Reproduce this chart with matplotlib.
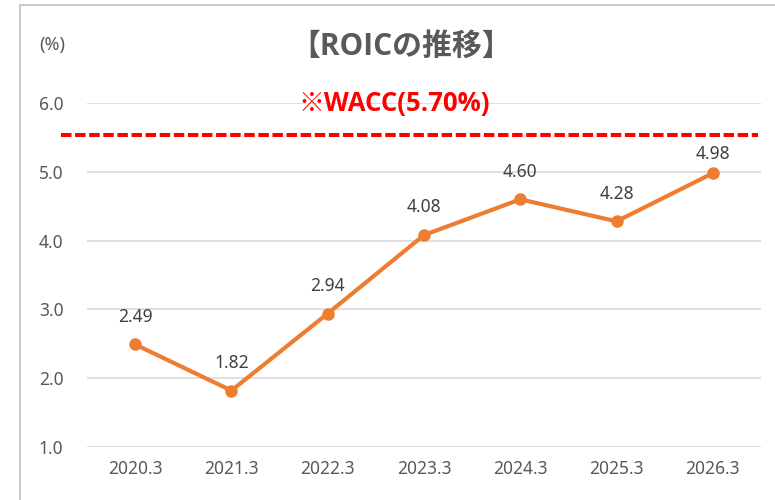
import matplotlib
matplotlib.use("Agg")
import matplotlib.pyplot as plt
from matplotlib.patches import Rectangle

plt.rcParams['font.family'] = ['Noto Sans', 'Noto Sans CJK JP', 'DejaVu Sans']
bold_family = ['Open Sans', 'Noto Sans CJK JP', 'DejaVu Sans']

# data
years = ['2020.3', '2021.3', '2022.3', '2023.3', '2024.3', '2025.3', '2026.3']
roic = [2.49, 1.82, 2.94, 4.08, 4.60, 4.28, 4.98]
wacc_line_y = 5.54   # where the dashed WACC line is drawn
wacc_text = '※WACC(5.70%)'
title = '【ROICの推移】'
y_ticks = [1.0, 2.0, 3.0, 4.0, 5.0, 6.0]

orange = '#ED7D31'
gray_text = '#595959'

fig = plt.figure(figsize=(7.75, 5), dpi=100)
ax = fig.add_axes([87 / 775, 1 - 447 / 500, (761 - 87) / 775, (447 - 103) / 500])

# outer chart border (cropped at right and bottom)
fig.patches.append(Rectangle((20 / 775, -0.1), 1.2, 1 - 5 / 500 + 0.1,
                             transform=fig.transFigure, fill=False,
                             edgecolor='#BFBFBF', lw=1.2))

x = list(range(len(years)))
ax.plot(x, roic, color=orange, lw=3, marker='o', markersize=8, zorder=3)

# value labels
offsets = [20, 20, 20, 20, 20, 20, 14]
for xi, v, off in zip(x, roic, offsets):
    ax.annotate(f'{v:.2f}', (xi, v), xytext=(0, off), textcoords='offset points',
                ha='center', va='center', fontsize=12.5, color='#404040')

# WACC dashed line, extends a bit left of the plot area
ax.axhline(wacc_line_y, xmin=-0.038, xmax=0.996, color='#FF0000', lw=2.9,
           linestyle=(0, (2.6, 0.9)), clip_on=False, zorder=2)

ax.set_xlim(-0.5, len(years) - 0.5)
ax.set_ylim(1.0, 6.0)
ax.set_yticks(y_ticks)
ax.set_yticklabels([f'{t:.1f}' for t in y_ticks])
ax.set_xticks(x)
ax.set_xticklabels(years)
ax.grid(axis='y', color='#D9D9D9', lw=1.2)
ax.set_axisbelow(True)
for s in ax.spines.values():
    s.set_visible(False)
ax.tick_params(axis='both', length=0, labelsize=12.5, labelcolor=gray_text)
ax.tick_params(axis='y', pad=17)
ax.tick_params(axis='x', pad=9)

fig.text(401 / 775, 1 - 47 / 500, title, ha='center', va='center',
         fontsize=21.5, fontweight='bold', color=gray_text, family=bold_family)
fig.text(394 / 775, 1 - 103 / 500, wacc_text, ha='center', va='center',
         fontsize=18.5, fontweight='bold', color='#FF0000', family=bold_family)
fig.text(52 / 775, 1 - 45 / 500, '(%)', ha='center', va='center',
         fontsize=13, color=gray_text)

fig.savefig('out.png', dpi=100)
